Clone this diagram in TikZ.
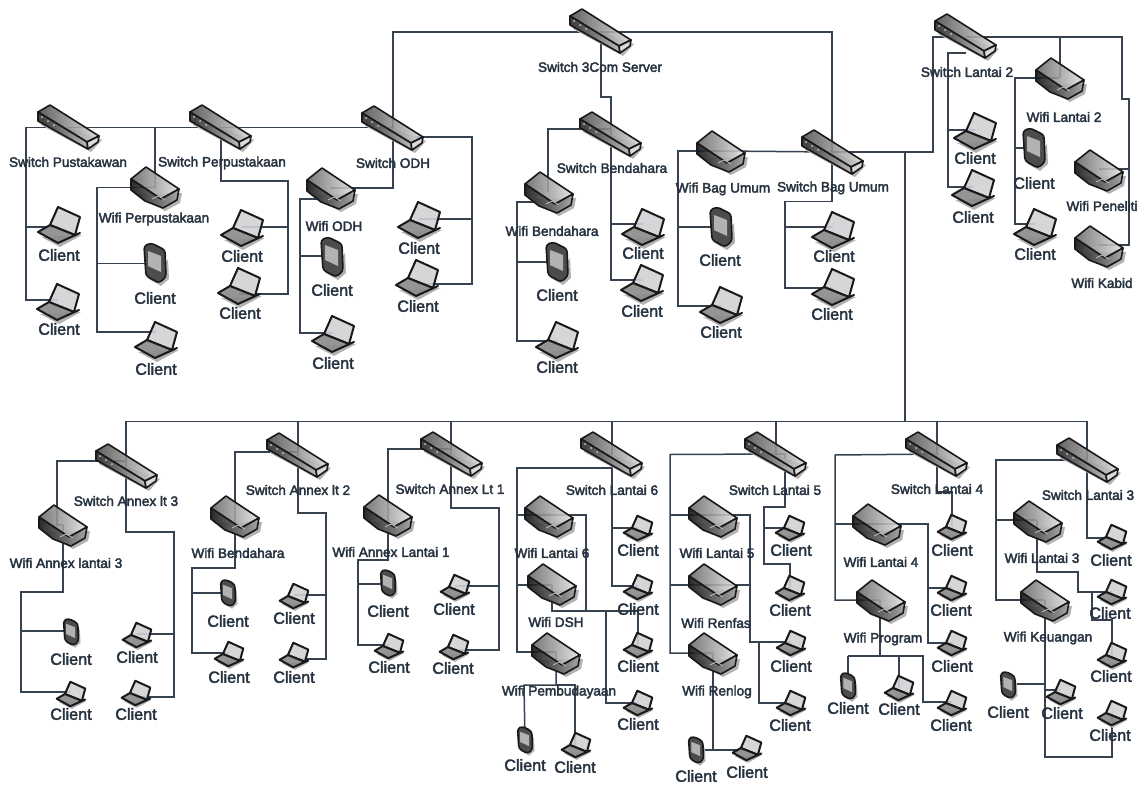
\documentclass[tikz,border=0pt]{standalone}
\usepackage{fontspec}
\setmainfont{Liberation Sans}
\newcommand\heavy[1]{\special{pdf:code q 2 Tr 0.38 w 0.15 0.196 0.247 RG}#1\special{pdf:code Q}}
\pgfdeclarelayer{bg}
\pgfsetlayers{bg,main}
\definecolor{ink}{HTML}{26323F}
\definecolor{wirec}{HTML}{36424F}
\tikzset{
 port/.style={inner sep=0pt,minimum size=0pt,outer sep=0pt},
 wire/.style={draw=wirec,line width=1.5pt,line join=miter},
 dlab/.style={inner sep=0pt,text=ink,font=\fontsize{13.6}{14}\selectfont},
 clab/.style={inner sep=0pt,text=ink,font=\fontsize{16.2}{17}\selectfont},
 edge/.style={draw=black!90,line width=1.6pt,line join=round},
 shad/.style={fill=black!30,draw=none},
}
% ---------- icons, drawn round the origin, in reference pixels
\newcommand\icSwi{%
 \fill[shad] (-27,-9)--(33,13)--(22,25)--(-28,-2)--cycle;
 \path[edge,left color=black!70,right color=black!15,fill opacity=.88] (-31,-15)--(-19,-22)--(30,9)--(18,15)--cycle;
 \path[edge,left color=black!85,right color=black!25,fill opacity=.88] (-31,-15)--(18,15)--(19,22)--(-31,-6)--cycle;
 \path[edge,fill=black!12,fill opacity=.9] (18,15)--(30,9)--(29,15)--(19,22)--cycle;
 \fill[white!80!black] (-27,-10) circle (1pt) (-21,-6) circle (1pt) (-15,-2) circle (1pt);
}
\newcommand\icWif{%
 \fill[shad] (-20,7)--(27,6)--(25,16)--(10,24)--cycle;
 \path[edge,left color=black!60,right color=black!12,fill opacity=.88] (-24,-8)--(-9,-20)--(24,2)--(6,12)--cycle;
 \path[edge,left color=black!92,right color=black!35,fill opacity=.9] (-24,-8)--(6,12)--(24,2)--(22,13)--(8,21)--(-10,14)--(-24,3)--cycle;
 \draw[white!75!black,line width=.8pt] (-3,12)--(3,9)--(10,13);
}
\newcommand\icLap{%
 \fill[shad] (-18,12)--(23,10)--(1,22)--cycle;
 \path[edge,line width=2pt,fill=blue!8!black!18,fill opacity=.9] (-1,-18)--(21,-8)--(16,10)--(-9,0)--cycle;
 \path[edge,line width=2pt,fill=black!45,fill opacity=.92] (-9,0)--(16,10)--(21,8)--(-1,18)--(-21,7)--cycle;
}
\newcommand\icLaps{\begin{scope}[scale=.68]\icLap\end{scope}}
\newcommand\icPho{%
 \fill[shad] (-6,16)--(13,-4)--(14,16)--(6,23)--cycle;
 \path[edge,fill=black!70,rounded corners=3pt] (-11,-17)--(-4,-20)--(10,-13)--(11,14)--(4,20)--(-9,13)--cycle;
 \fill[black!30] (-7,-12)--(6,-7)--(6,9)--(-7,3)--cycle;
}
\newcommand\icPhos{\begin{scope}[scale=.68]\icPho\end{scope}}
% device: type, name, x, y, port x, port y, label, label x, label y
\newcommand\dev[9]{%
 \node[port] (#2) at (#5,#6) {};
 \begin{scope}[shift={(#3,#4)}]\csname ic#1\endcsname\end{scope}
 \node[dlab] (#2-t) at (#8,#9) {\heavy{#7}};
}
% client: type, name, x, y, port y, label x, label y
\newcommand\cli[7]{%
 \node[port] (#2) at (#3,#5) {};
 \begin{scope}[shift={(#3,#4)}]\csname ic#1\endcsname\end{scope}
 \node[clab] (#2-t) at (#6,#7) {\heavy{Client}};
}
\begin{document}
\begin{tikzpicture}[x=1pt,y=-1pt]
\useasboundingbox (0,0) rectangle (1139,784);
% ================= upper devices
\dev{Swi}{sw3c}{601}{31}{601}{32}{Switch 3Com Server}{600}{67}
\dev{Swi}{swpus}{69}{127}{69}{127.5}{Switch Pustakawan}{68}{162}
\dev{Swi}{swper}{221}{127}{221}{127.5}{Switch Perpustakaan}{222}{163}
\dev{Swi}{swodh}{393}{128}{393}{127.5}{Switch ODH}{393}{163}
\dev{Wif}{wper}{155}{187}{155}{187.5}{Wifi Perpustakaan}{154}{219}
\dev{Wif}{wodh}{331}{188}{331}{188}{Wifi ODH}{334}{226}
\cli{Lap}{c1}{59}{225}{227}{59}{255}
\cli{Lap}{c2}{58}{302}{300}{59}{329}
\cli{Pho}{c3}{155}{263}{263.5}{155}{298}
\cli{Lap}{c4}{156}{340}{332}{156}{369}
\cli{Lap}{c5}{242}{228}{227}{242}{256}
\cli{Lap}{c6}{239}{286}{294}{240}{313}
\cli{Pho}{c7}{332}{257}{256}{332}{290}
\cli{Lap}{c8}{333}{334}{333}{333}{363}
\cli{Lap}{c9}{419}{220}{219}{419}{248}
\cli{Lap}{c10}{417}{278}{284}{418}{306}
\dev{Swi}{swben}{611}{134}{611}{134}{Switch Bendahara}{612}{168}
\dev{Wif}{wben}{549}{192}{548}{192}{Wifi Bendahara}{552}{231}
\cli{Pho}{c11}{557}{262}{262}{557}{295}
\cli{Lap}{c12}{557}{340}{341}{557}{367}
\cli{Lap}{c13}{643}{227}{224}{643}{253}
\cli{Lap}{c14}{642}{283}{280}{642}{311}
\dev{Wif}{wbag}{721}{151}{721}{151}{Wifi Bag Umum}{723}{189}
\cli{Pho}{c15}{721}{227}{227}{720}{260}
\cli{Lap}{c16}{721}{305}{306}{721}{332}
\dev{Swi}{swbag}{833}{152}{832}{152}{Switch Bag Umum}{833}{188}
\cli{Lap}{c17}{833}{230}{227}{834}{256}
\cli{Lap}{c18}{833}{287}{288}{832}{314}
\dev{Swi}{sw2}{966}{36}{966}{37}{Switch Lantai 2}{967}{72}
\cli{Lap}{c19}{975}{131}{130}{975}{158}
\cli{Lap}{c20}{973}{188}{187}{973}{217}
\dev{Wif}{wl2}{1060}{78}{1060}{78}{Wifi Lantai 2}{1064}{117}
\cli{Pho}{c21}{1034}{148}{148}{1034}{183}
\cli{Lap}{c22}{1035}{227}{224}{1035}{254}
\dev{Wif}{wpen}{1099}{170}{1099}{169}{Wifi Peneliti}{1102}{206}
\dev{Wif}{wkab}{1099}{246}{1099}{245}{Wifi Kabid}{1102}{283}
% ================= lower devices
\dev{Swi}{swa3}{127}{466}{126}{466}{Switch Annex lt 3}{126}{501}
\dev{Wif}{wa3}{63}{525}{60}{525}{Wifi Annex lantai 3}{66}{563}
\cli{Phos}{d1}{71}{632}{631}{71}{659}
\cli{Laps}{d2}{137}{635}{634}{137}{657}
\cli{Laps}{d3}{71}{694}{692}{71}{714}
\cli{Laps}{d4}{136}{693}{697}{136}{714}
\dev{Swi}{swa2}{298}{455}{298}{455}{Switch Annex lt 2}{298}{490}
\dev{Wif}{wa2}{235}{516}{235}{516}{Wifi Bendahara}{238}{553}
\cli{Phos}{d5}{228}{593}{593}{228}{621}
\cli{Laps}{d6}{294}{596}{595}{294}{618}
\cli{Laps}{d7}{229}{654}{653}{229}{677}
\cli{Laps}{d8}{294}{655}{659}{294}{677}
\dev{Swi}{swa1}{452}{454}{451}{454}{Switch Annex Lt 1}{450}{489}
\dev{Wif}{wa1}{388}{515}{388}{515}{Wifi Annex Lantai 1}{391}{552}
\cli{Phos}{d9}{388}{583}{584}{388}{611}
\cli{Laps}{d10}{455}{587}{586}{454}{609}
\cli{Laps}{d11}{389}{646}{645}{389}{667}
\cli{Laps}{d12}{454}{647}{650}{453}{668}
\dev{Swi}{swl6}{612}{454}{612}{454}{Switch Lantai 6}{612}{490}
\dev{Wif}{wl6}{549}{516}{549}{515}{Wifi Lantai 6}{552}{553}
\dev{Wif}{wdsh}{552}{584}{552}{585}{Wifi DSH}{556}{622}
\dev{Wif}{wpem}{556}{653}{556}{652}{Wifi Pembudayaan}{559}{692}
\cli{Phos}{d13}{525}{740}{740}{525}{765}
\cli{Laps}{d14}{576}{745}{745}{575}{767}
\cli{Laps}{d15}{638}{528}{528}{638}{550}
\cli{Laps}{d16}{638}{587}{586}{638}{609}
\cli{Laps}{d17}{638}{645}{645}{638}{666}
\cli{Laps}{d18}{638}{703}{703}{638}{724}
\dev{Swi}{swl5}{776}{454}{776}{454}{Switch Lantai 5}{775}{490}
\dev{Wif}{wl5}{713}{516}{713}{515}{Wifi Lantai 5}{717}{553}
\dev{Wif}{wren}{713}{584}{713}{585}{Wifi Renfas}{716}{623}
\dev{Wif}{wrel}{713}{653}{713}{653}{Wifi Renlog}{717}{692}
\cli{Phos}{d19}{696}{750}{750}{696}{776}
\cli{Laps}{d20}{747}{748}{750}{747}{772}
\cli{Laps}{d21}{790}{528}{528}{791}{550}
\cli{Laps}{d22}{790}{588}{588}{790}{610}
\cli{Laps}{d23}{791}{643}{642}{791}{666}
\cli{Laps}{d24}{791}{703}{703}{790}{725}
\dev{Swi}{swl4}{937}{454}{937}{454}{Switch Lantai 4}{937}{489}
\dev{Wif}{wl4}{877}{524}{877}{524}{Wifi Lantai 4}{881}{562}
\dev{Wif}{wpro}{881}{600}{880}{600}{Wifi Program}{883}{639}
\cli{Phos}{d25}{848}{686}{686}{848}{708}
\cli{Laps}{d26}{899}{688}{688}{899}{709}
\cli{Laps}{d27}{952}{527}{527}{952}{550}
\cli{Laps}{d28}{952}{588}{588}{951}{610}
\cli{Laps}{d29}{952}{643}{643}{952}{666}
\cli{Laps}{d30}{952}{703}{702}{951}{725}
\dev{Swi}{swl3}{1088}{460}{1087}{460}{Switch Lantai 3}{1088}{495}
\dev{Wif}{wl3}{1038}{521}{1037}{520}{Wifi Lantai 3}{1042}{558}
\dev{Wif}{wkeu}{1045}{600}{1045}{600}{Wifi Keuangan}{1048}{638}
\cli{Phos}{d31}{1008}{685}{684}{1008}{712}
\cli{Laps}{d32}{1061}{692}{690}{1062}{713}
\cli{Laps}{d33}{1112}{537}{538}{1111}{560}
\cli{Laps}{d34}{1112}{592}{592}{1110}{613}
\cli{Laps}{d35}{1112}{655}{655}{1111}{676}
\cli{Laps}{d36}{1112}{713}{713}{1110}{735}
\coordinate (tr) at (905,421.5);
% ================= connectors
\begin{pgfonlayer}{bg}
% top left
\draw[wire] (swodh) -- (26,127.5) -- (26,300) -- (c2);
\draw[wire] (26,227) -- (c1);
\draw[wire] (wper) -- (wper |- swpus);
\draw[wire] (wper) -- (97,187.5) -- (97,332) -- (c4);
\draw[wire] (97,263.5) -- (c3);
\draw[wire] (swper) -- (221,181) -- (288,181) -- (288,294) -- (c6);
\draw[wire] (288,227) -- (c5);
\draw[wire] (swodh) -- (393,32) -- (sw3c);
\draw[wire] (swodh) -- (393,188) -- (wodh);
\draw[wire] (wodh |- 0,199) -- (300,199) -- (300,333) -- (c8);
\draw[wire] (300,256) -- (c7);
\draw[wire] (swodh |- 0,137) -- (472,137) -- (472,284) -- (c10);
\draw[wire] (472,219) -- (c9);
% server
\draw[wire] (sw3c) -- (832,32) -- (swbag);
\draw[wire] (swbag) -- (832,201.5) -- (785,201.5) -- (785,288) -- (c18);
\draw[wire] (785,227) -- (c17);
\draw[wire] (sw3c) -- (601,97) -- (611,97) -- (swben);
\draw[wire] (swben) -- (611,280) -- (c14);
\draw[wire] (611,224) -- (c13);
\draw[wire] (swben |- 0,129) -- (548,129) -- (wben);
\draw[wire] (wben |- 0,202) -- (517,202) -- (517,341) -- (c12);
\draw[wire] (517,262) -- (c11);
\draw[wire] (wbag) -- (678,151) -- (678,306) -- (c16);
\draw[wire] (678,227) -- (c15);
\draw[wire] (wbag) -- (swbag);
% floor 2
\draw[wire] (swbag) -- (933,152) -- (933,37) -- (1122,37) -- (1122,99) -- (1129,99) -- (1129,245) -- (wkab);
\draw[wire] (sw2) -- (933,37);
\draw[wire] (1129,169) -- (wpen);
\draw[wire] (wl2) -- (wl2 |- sw2);
\draw[wire] (wl2) -- (1015,78) -- (1015,224) -- (c22);
\draw[wire] (1015,148) -- (c21);
\draw[wire] (sw2 |- 0,53) -- (948,53) -- (948,187) -- (c20);
\draw[wire] (948,130) -- (c19);
% trunk
\draw[wire] (905,152) -- (tr);
\draw[wire] (tr) -- (126,421.5) -- (swa3);
\draw[wire] (tr) -- (1087,421.5) -- (swl3);
\draw[wire] (swa2) -- (298,421.5);
\draw[wire] (swa1) -- (451,421.5);
\draw[wire] (swl6) -- (612,421.5);
\draw[wire] (swl5) -- (776,421.5);
\draw[wire] (swl4) -- (937,421.5);
% annex 3
\draw[wire] (swa3) -- (126,532) -- (174,532) -- (174,697) -- (d4);
\draw[wire] (174,634) -- (d2);
\draw[wire] (swa3 |- 0,461) -- (57,461) -- (57,525) -- (wa3);
\draw[wire] (wa3) -- (63,525) -- (63,592) -- (21,592) -- (21,692) -- (d3);
\draw[wire] (21,631) -- (d1);
% annex 2
\draw[wire] (swa2) -- (298,513) -- (326,513) -- (326,659) -- (d8);
\draw[wire] (326,595) -- (d6);
\draw[wire] (swa2 |- 0,452) -- (235,452) -- (wa2);
\draw[wire] (wa2) -- (235,568) -- (192,568) -- (192,653) -- (d7);
\draw[wire] (192,593) -- (d5);
% annex 1
\draw[wire] (swa1) -- (451,508) -- (499,508) -- (499,650) -- (d12);
\draw[wire] (499,586) -- (d10);
\draw[wire] (swa1 |- 0,449) -- (388,449) -- (wa1);
\draw[wire] (wa1) -- (388,560) -- (358,560) -- (358,645) -- (d11);
\draw[wire] (358,584) -- (d9);
% floor 6
\draw[wire] (swl6) -- (612,586) -- (d16);
\draw[wire] (612,528) -- (d15);
\draw[wire] (swl6 |- 0,468) -- (517,468) -- (517,652) -- (wpem);
\draw[wire] (517,515) -- (wl6);
\draw[wire] (517,585) -- (wdsh);
\draw[wire] (wl6) -- (586,515) -- (586,611) -- (638,611) -- (d17);
\draw[wire] (wdsh) -- (552,611) -- (586,611);
\draw[wire] (606,611) -- (606,703) -- (d18);
\draw[wire] (wpem) -- (556,685) -- (524,685) -- (d13);
\draw[wire] (556,685) -- (575,685) -- (575,745) -- (d14);
% floor 5
\draw[wire] (swl5) -- (785,454) -- (785,507) -- (764,507) -- (764,564) -- (790,564) -- (d22);
\draw[wire] (764,528) -- (d21);
\draw[wire] (swl5) -- (670,454.5) -- (670,653) -- (wrel);
\draw[wire] (670,515) -- (wl5);
\draw[wire] (670,585) -- (wren);
\draw[wire] (wl5) -- (750,515) -- (750,642) -- (d23);
\draw[wire] (wren) -- (750,585);
\draw[wire] (759,642) -- (759,703) -- (d24);
\draw[wire] (wrel) -- (713,750);
\draw[wire] (d19) -- (d20);
% floor 4
\draw[wire] (swl4) -- (937,492) -- (952,492) -- (d27);
\draw[wire] (swl4) -- (835,455) -- (835,600) -- (wpro);
\draw[wire] (835,524) -- (wl4);
\draw[wire] (wl4) -- (928,524) -- (928,643) -- (d29);
\draw[wire] (928,588) -- (d28);
\draw[wire] (wpro) -- (880,656);
\draw[wire] (848,656) -- (d25);
\draw[wire] (848,656) -- (923,656) -- (923,702) -- (d30);
\draw[wire] (899,656) -- (d26);
% floor 3
\draw[wire] (swl3) -- (1087,538) -- (d33);
\draw[wire] (swl3) -- (996,460) -- (996,600) -- (wkeu);
\draw[wire] (996,520) -- (wl3);
\draw[wire] (wl3) -- (1037,572) -- (1078,572) -- (1078,592) -- (d34);
\draw[wire] (1092,592) -- (1092,620) -- (1112,620) -- (d35);
\draw[wire] (wkeu) -- (1045,757) -- (1112,757) -- (d36);
\draw[wire] (1045,684) -- (d31);
\draw[wire] (1045,690) -- (d32);
\end{pgfonlayer}
\end{tikzpicture}
\end{document}
